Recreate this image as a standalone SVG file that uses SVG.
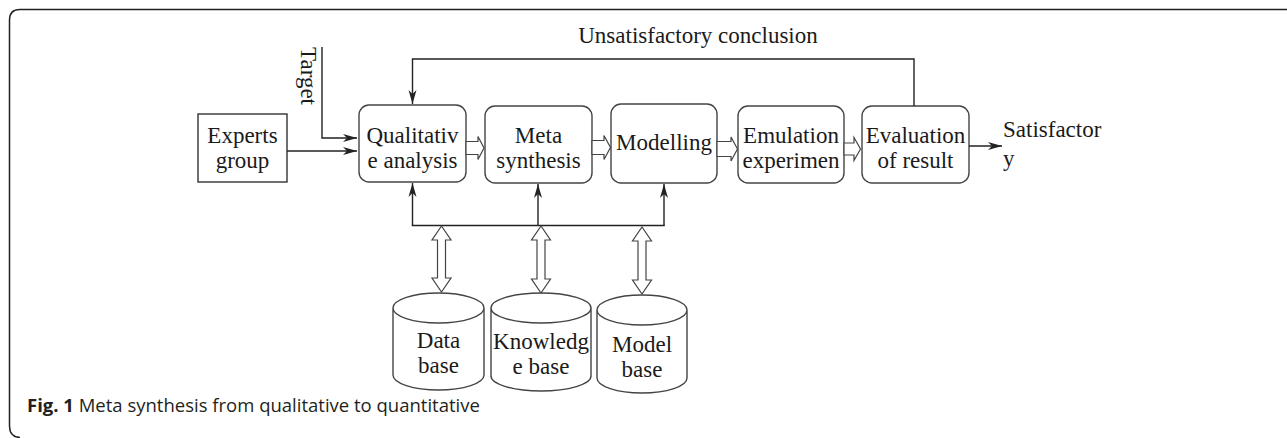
<svg xmlns="http://www.w3.org/2000/svg" width="1287" height="438" viewBox="0 0 1287 438">
<style>
.box{fill:#fff;stroke:#444;stroke-width:1.4}
.t{font-family:"Liberation Serif","Times New Roman",serif;font-size:23px;fill:#1a1a1a;text-anchor:middle}
.tl{font-family:"Liberation Serif","Times New Roman",serif;font-size:23px;fill:#1a1a1a}
.ln{fill:none;stroke:#222;stroke-width:1.4}
.blk{fill:#fff;stroke:#444;stroke-width:1.2}
.cap{font-family:"Open Sans","Noto Sans",sans-serif;font-size:18.5px;fill:#231f20}
</style>
<defs>
<marker id="ah" viewBox="0 0 14 10" refX="14" refY="5" markerWidth="14" markerHeight="10" markerUnits="userSpaceOnUse" orient="auto">
<path d="M0,1 L14,5 L0,9 L4,5 Z" fill="#222"/>
</marker>
</defs>
<path d="M1290,9.5 H20 Q9.5,9.5 9.5,20 V426 Q9.5,437 20,437.5" fill="none" stroke="#222" stroke-width="1.5"/>

<g id="experts">
<rect class="box" x="198" y="114" width="89" height="68" style="stroke:#333"/>
<text class="t" x="242.5" y="143">Experts</text>
<text class="t" x="242.5" y="168">group</text>
</g>
<g id="target">
<text class="tl" transform="translate(301,47) rotate(90)">Target</text>
</g>
<g id="qualitative">
<rect class="box" x="359" y="105" width="107" height="77" rx="10"/>
<text class="t" x="412.5" y="143">Qualitativ</text>
<text class="t" x="412.5" y="168">e analysis</text>
</g>
<g id="meta">
<rect class="box" x="485" y="106" width="107" height="77" rx="10"/>
<text class="t" x="538.5" y="143">Meta</text>
<text class="t" x="538.5" y="168">synthesis</text>
</g>
<g id="modelling">
<rect class="box" x="611" y="104" width="106" height="79" rx="10"/>
<text class="t" x="664" y="150">Modelling</text>
</g>
<g id="emulation">
<rect class="box" x="738" y="106" width="106" height="77" rx="10"/>
<text class="t" x="791" y="143">Emulation</text>
<text class="t" x="791" y="168">experimen</text>
</g>
<g id="evaluation">
<rect class="box" x="862" y="106" width="107" height="77" rx="10"/>
<text class="t" x="915.5" y="143">Evaluation</text>
<text class="t" x="915.5" y="168">of result</text>
</g>
<g id="unsat-label">
<text class="t" x="698" y="43">Unsatisfactory conclusion</text>
</g>
<g id="satisfactory">
<text class="tl" x="1003" y="137">Satisfactor</text>
<text class="tl" x="1003" y="166">y</text>
</g>
<g id="database">
<path class="box" d="M393,308 V375 A45.5,15 0 0 0 484,375 V308 A45.5,15 0 0 0 393,308 A45.5,15 0 0 0 484,308"/>
<text class="t" x="438.5" y="348">Data</text>
<text class="t" x="438.5" y="373">base</text>
</g>
<g id="knowledgebase">
<path class="box" d="M491,308 V376 A50,15 0 0 0 591,376 V308 A50,15 0 0 0 491,308 A50,15 0 0 0 591,308"/>
<text class="t" x="541" y="349">Knowledg</text>
<text class="t" x="541" y="374">e base</text>
</g>
<g id="modelbase">
<path class="box" d="M597,310 V378 A45,15 0 0 0 687,378 V310 A45,15 0 0 0 597,310 A45,15 0 0 0 687,310"/>
<text class="t" x="642" y="352">Model</text>
<text class="t" x="642" y="377">base</text>
</g>

<g id="connectors">
<path class="ln" d="M322,47 V138 H357" marker-end="url(#ah)"/>
<path class="ln" d="M287,151 H357" marker-end="url(#ah)"/>
<path class="ln" d="M914,106 V59 H412.5 V104" marker-end="url(#ah)"/>
<path class="ln" d="M969,146 H1002" marker-end="url(#ah)"/>
<path class="ln" d="M412.5,225.5 V183" marker-end="url(#ah)"/>
<path class="ln" d="M538,225.5 V184" marker-end="url(#ah)"/>
<path class="ln" d="M664,225.5 V184" marker-end="url(#ah)"/>
<path class="ln" d="M411.8,225.5 H664.7"/>
<path class="blk" d="M466,141.5 H478 V136.5 L484,148 L478,159.5 V154.5 H466 Z"/>
<path class="blk" d="M592,140.5 H604 V135.5 L610.5,147.5 L604,159.5 V154.5 H592 Z"/>
<path class="blk" d="M717,141.5 H731 V137 L737.5,149 L731,161 V156.5 H717 Z"/>
<path class="blk" d="M844,143 H854 V137.5 L860.5,149 L854,160.5 V155 H844 Z"/>
<path class="blk" d="M441.5,226 L451,240 H445.5 V278 H451 L441.5,292 L432,278 H437.5 V240 H432 Z"/>
<path class="blk" d="M541,226 L550.5,240 H545 V279 H550.5 L541,293 L531.5,279 H537 V240 H531.5 Z"/>
<path class="blk" d="M642,227 L651.5,241 H646 V280 H651.5 L642,294 L632.5,280 H638 V241 H632.5 Z"/>
</g>

<text class="cap" x="27" y="412"><tspan font-weight="bold">Fig. 1</tspan> Meta synthesis from qualitative to quantitative</text>
</svg>
